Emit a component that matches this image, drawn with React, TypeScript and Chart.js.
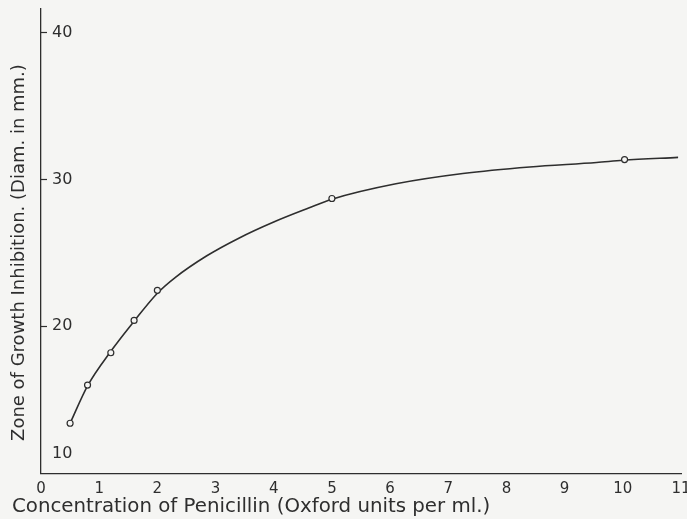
import React, { useEffect, useRef } from "react";
import { Chart, registerables } from "chart.js";

Chart.register(...registerables);

// Measured points
const pointX = [0.5, 0.8, 1.2, 1.6, 2.0, 5.0, 10.03];
const pointY = [13.4, 16.0, 18.2, 20.4, 22.45, 28.7, 31.35];

// Fitted curve
const curveX = [0.5, 0.8, 1.2, 1.6, 2.0, 2.3, 2.85, 3.4, 4.0, 4.6, 5.0, 6.1, 7.25, 8.4, 9.55, 10.0, 10.95];
const curveY = [13.4, 15.95, 18.3, 20.35, 22.25, 23.3, 24.8, 26.0, 27.1, 28.05, 28.65, 29.7, 30.4, 30.85, 31.15, 31.3, 31.5];

const yTicks = [10, 20, 30, 40];
const xTicks = [0, 1, 2, 3, 4, 5, 6, 7, 8, 9, 10, 11];

const xTitle = "Concentration of Penicillin (Oxford units per ml.)";
const yTitle = "Zone of Growth Inhibition. (Diam. in mm.)";

const INK = "#2e2e2e";
const PAPER = "#f5f5f3";
const FONT = "'DejaVu Sans', sans-serif";

export default function App() {
  const ref = useRef<HTMLCanvasElement | null>(null);

  useEffect(() => {
    document.body.style.margin = "0";
    const canvas = ref.current;
    if (!canvas) return;
    const chart = new Chart(canvas, {
      type: "scatter",
      data: {
        datasets: [
          {
            label: "curve",
            data: curveX.map((x, i) => ({ x, y: curveY[i] })),
            showLine: true,
            borderColor: INK,
            borderWidth: 1.6,
            pointRadius: 0,
            cubicInterpolationMode: "monotone",
            order: 2,
          },
          {
            label: "points",
            data: pointX.map((x, i) => ({ x, y: pointY[i] })),
            showLine: false,
            pointRadius: 3,
            pointBorderWidth: 1.2,
            pointBorderColor: INK,
            pointBackgroundColor: PAPER,
            order: 1,
          },
        ],
      },
      options: {
        animation: false,
        responsive: false,
        layout: { padding: { left: 12, top: 9, right: 6, bottom: 0 } },
        plugins: {
          legend: { display: false },
          tooltip: { enabled: false },
          title: {
            display: true,
            position: "bottom",
            align: "start",
            text: xTitle,
            color: INK,
            font: { family: FONT, size: 19.8, weight: "normal", lineHeight: 1.1 },
            padding: { top: 2, bottom: 1 },
          },
        },
        scales: {
          x: {
            type: "linear",
            min: 0,
            max: 11,
            afterFit: (s: any) => {
              s.height = 21;
              s.paddingLeft = 0;
              s.paddingRight = 0;
            },
            afterBuildTicks: (s: any) => {
              s.ticks = xTicks.map((v) => ({ value: v }));
            },
            grid: { display: true, drawOnChartArea: false, drawTicks: false },
            border: { display: true, color: INK, width: 1.3 },
            ticks: {
              color: INK,
              font: { family: FONT, size: 15 },
              padding: 7,
              maxRotation: 0,
              autoSkip: false,
            },
          },
          y: {
            type: "linear",
            min: 10,
            max: 41.6,
            afterFit: (s: any) => {
              s.width = 29;
              s.paddingTop = 0;
              s.paddingBottom = 0;
            },
            afterBuildTicks: (s: any) => {
              s.ticks = yTicks.map((v) => ({ value: v }));
            },
            grid: {
              display: true,
              drawOnChartArea: false,
              drawTicks: true,
              tickLength: -6,
              tickColor: (ctx: any) => (ctx.tick && ctx.tick.value === 10 ? "rgba(0,0,0,0)" : INK),
              tickWidth: 1.2,
            },
            border: { display: true, color: INK, width: 1.3 },
            title: {
              display: true,
              text: yTitle + "    ",
              color: INK,
              font: { family: FONT, size: 18, weight: "normal", lineHeight: 0.85 },
              padding: { top: 0, bottom: 0 },
            },
            ticks: {
              mirror: true,
              padding: 11,
              color: INK,
              font: { family: FONT, size: 16 },
              callback: (v: any) => (Number(v) === 10 ? ["10", "", ""] : String(v)),
            },
          },
        },
      },
    });
    return () => chart.destroy();
  }, []);

  return (
    <div style={{ width: 687, height: 519, background: PAPER }}>
      <canvas ref={ref} width={687} height={519} style={{ display: "block" }} />
    </div>
  );
}
